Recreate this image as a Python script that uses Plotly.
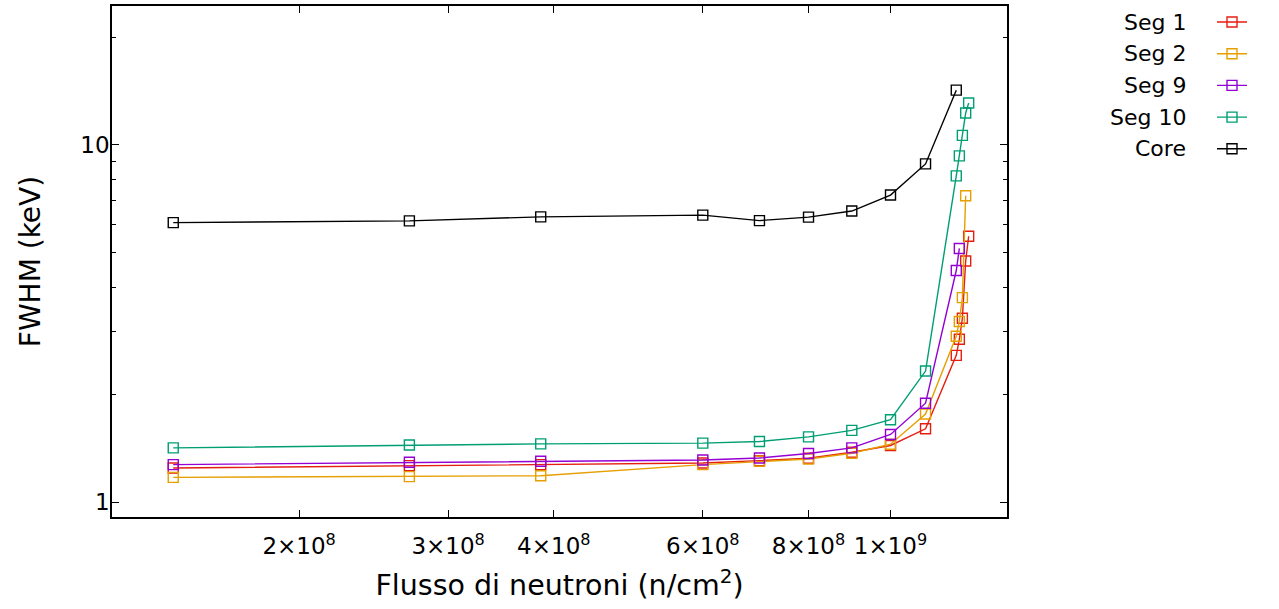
import plotly.graph_objects as go
import numpy as np

# Neutron flux (n/cm^2) sample points
flux = [1.42e8, 2.70e8, 3.86e8, 6.0e8, 7.0e8, 8.0e8, 9.0e8, 1.0e9, 1.1e9,
        1.196e9, 1.206e9, 1.216e9, 1.227e9, 1.237e9]

# FWHM (keV) per series
seg1 = [1.245, 1.265, 1.273, 1.286, 1.306, 1.326, 1.379, 1.440, 1.604,
        2.575, 2.856, 3.27, 4.73, 5.55]
seg2 = [1.172, 1.178, 1.185, 1.273, 1.301, 1.320, 1.370, 1.452, 1.764,
        2.912, 3.204, 3.736, 7.21]
seg9 = [1.273, 1.292, 1.301, 1.311, 1.328, 1.367, 1.418, 1.546, 1.891,
        4.45, 5.13]
seg10 = [1.418, 1.445, 1.455, 1.462, 1.477, 1.522, 1.587, 1.700, 2.327,
         8.19, 9.32, 10.64, 12.29, 13.11]
core = [6.06, 6.13, 6.29, 6.36, 6.14, 6.28, 6.53, 7.24, 8.85, 14.24]

names = ["Seg 1", "Seg 2", "Seg 9", "Seg 10", "Core"]
colors = ["#e51e10", "#e69f00", "#9400d3", "#009e73", "#000000"]
series = [seg1, seg2, seg9, seg10, core]

xticks = [2e8, 3e8, 4e8, 6e8, 8e8, 1e9]
xticktext = ["2×10<sup>8</sup>", "3×10<sup>8</sup>", "4×10<sup>8</sup>",
             "6×10<sup>8</sup>", "8×10<sup>8</sup>", "1×10<sup>9</sup>"]
yticks = [1, 10]
yticktext = ["1", "10"]
yminor = [2, 3, 4, 5, 6, 7, 8, 9, 20]

FONT = "DejaVu Sans"

fig = go.Figure()
for name, col, ys in zip(names, colors, series):
    fig.add_trace(go.Scatter(
        x=flux[:len(ys)], y=ys, name=name, legendgroup=name,
        mode="lines+markers",
        line=dict(color=col, width=1.4),
        marker=dict(symbol="square-open", size=10, color=col,
                    line=dict(width=1.4, color=col)),
    ))

W, H = 1279, 609
ml, mr, mt, mb = 112, 272, 6, 92
pw, ph = W - ml - mr, H - mt - mb

# legend labels on the left of the samples (gnuplot style)
leg_top_px = 22
leg_dy = 31.7
for i, name in enumerate(names):
    ypx = leg_top_px + i * leg_dy
    fig.add_annotation(
        x=(1188 - ml) / pw, y=(H - mb - ypx) / ph, xref="paper", yref="paper",
        text=name, showarrow=False, xanchor="right", yanchor="middle",
        font=dict(family=FONT, size=22, color="black"),
    )

fig.update_layout(
    width=W, height=H,
    margin=dict(l=ml, r=mr, t=mt, b=mb, autoexpand=False),
    paper_bgcolor="white", plot_bgcolor="white",
    font=dict(family=FONT, size=22, color="black"),
    showlegend=True,
    legend=dict(
        x=(1212 - ml) / pw, y=(H - mb - 7.5) / ph, xanchor="left", yanchor="top",
        font=dict(family=FONT, size=2, color="rgba(0,0,0,0)"),
        bgcolor="rgba(0,0,0,0)", borderwidth=0, tracegroupgap=12.7,
    ),
    xaxis=dict(
        type="log", range=[np.log10(1.202e8), np.log10(1.373e9)],
        tickmode="array", tickvals=xticks, ticktext=xticktext,
        ticks="inside", ticklen=7, tickwidth=1, tickcolor="black",
        showline=True, linecolor="black", linewidth=1.5, mirror="ticks",
        showgrid=False, zeroline=False, automargin=False,
        tickfont=dict(family=FONT, size=23), ticklabelstandoff=8,
        title=dict(text="Flusso di neutroni (n/cm<sup>2</sup>)",
                   font=dict(family=FONT, size=28.5), standoff=17),
    ),
    yaxis=dict(
        type="log", range=[np.log10(0.908), np.log10(24.5)],
        tickmode="array", tickvals=yticks, ticktext=yticktext,
        ticks="inside", ticklen=7, tickwidth=1, tickcolor="black",
        minor=dict(tickmode="array", tickvals=yminor, ticks="inside",
                   ticklen=4, tickwidth=1, tickcolor="black", showgrid=False),
        showline=True, linecolor="black", linewidth=1.5, mirror="ticks",
        showgrid=False, zeroline=False, automargin=False,
        tickfont=dict(family=FONT, size=23), ticklabelstandoff=-4,
        title=dict(text="FWHM (keV)", font=dict(family=FONT, size=28),
                   standoff=32),
    ),
)

fig.write_html("out.html",
               config={"displayModeBar": False},
               post_script="document.body.style.margin='0';")
